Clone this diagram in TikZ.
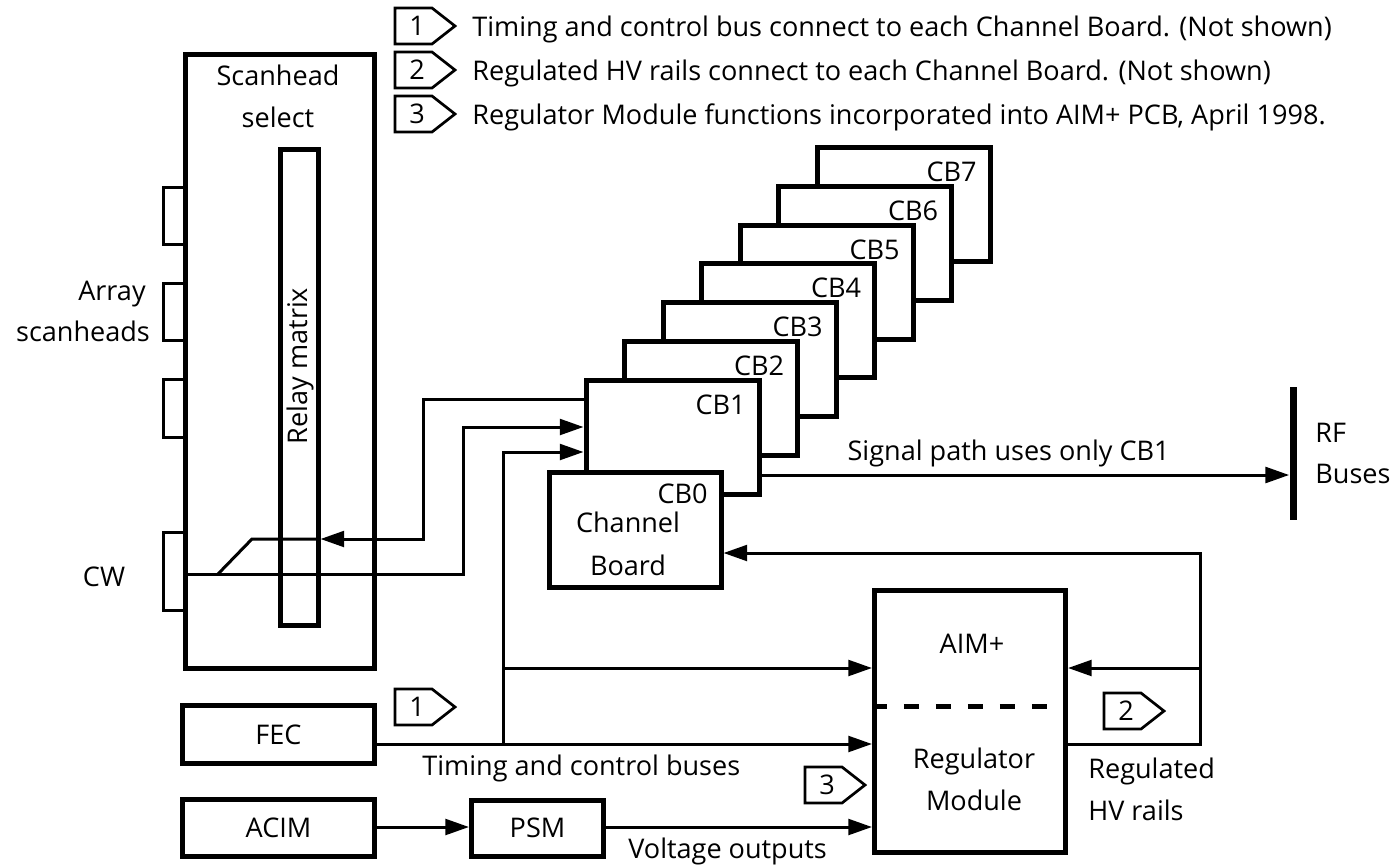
\documentclass[tikz,border=0pt]{standalone}
\usepackage{fontspec}
\setmainfont{Open Sans}
\usetikzlibrary{arrows.meta}
\newdimen\pxu \pxu=0.02cm
\newcommand\noteflag[4]{%
  \draw[flagline] (#2,#3-18) -- (#2+37,#3-18) -- (#2+60,#3) -- (#2+37,#3+18) -- (#2,#3+18) -- cycle;
  \node[lbl] (#1) at (#2+22,#3) {#4};}
\begin{document}
\begin{tikzpicture}[x=0.02cm,y=-0.02cm,
  font=\fontsize{15.4}{24}\selectfont,
  box/.style={draw, line width=5*\pxu, inner sep=0, fill=white},
  wire/.style={line width=3*\pxu},
  arr/.style={wire, -{Triangle[length=13.5pt,width=9pt]}},
  lbl/.style={inner sep=0},
  flagline/.style={line width=2.7*\pxu, line join=miter}]
\useasboundingbox (0,0) rectangle (1400,866);

% notes
\noteflag{f1}{395}{26}{1}
\noteflag{f2}{395}{70}{2}
\noteflag{f3}{395}{114}{3}
\node[lbl, anchor=base west] (n1) at (472,36) {Timing and control bus connect to each Channel Board. (Not shown)};
\node[lbl, anchor=base west] (n2) at (472,80) {Regulated HV rails connect to each Channel Board. (Not shown)};
\node[lbl, anchor=base west] (n3) at (472,124) {Regulator Module functions incorporated into AIM+ PCB, April 1998.};

% scanhead select
\node[box, minimum width=189*\pxu, minimum height=613.5*\pxu] (scan) at (280,361.25) {};
\node[lbl, anchor=base] (sh1) at (278,85) {Scanhead};
\node[lbl, anchor=base] (sh2) at (278,127) {select};
\node[box, fill=none, minimum width=38*\pxu, minimum height=476.5*\pxu] (relay) at (299,387.25) {};
\node[lbl, rotate=90, anchor=base] (relayl) at (307,366) {Relay matrix};
\foreach \a/\b in {187/244, 283/340, 379/437, 532/610}
  \draw[wire] (183,\a) -- (163,\a) -- (163,\b) -- (183,\b);
\node[lbl, anchor=base] (arr1) at (112,300) {Array};
\node[lbl, anchor=base] (arr2) at (83,341) {scanheads};
\node[lbl] (cwl) at (104,577) {CW};

% channel boards
\foreach \k in {7,6,...,1} {
  \pgfmathsetmacro\L{586+38.5*(\k-1)}
  \pgfmathsetmacro\T{380-38.7*(\k-1)}
  \node[box, minimum width=173*\pxu, minimum height=114*\pxu] (cb\k) at (\L+86.5,\T+57) {};
  \node[lbl, anchor=base east] (cbl\k) at (\L+160,\T+34) {CB\k};
}
\node[box, minimum width=172*\pxu, minimum height=115*\pxu] (cb0) at (635,529.5) {};
\node[lbl, anchor=base east] (cbl0) at (708,503) {CB0};
\node[lbl, anchor=base] (ch1) at (628,532) {Channel};
\node[lbl, anchor=base] (ch2) at (628,575) {Board};

% RF buses
\node[fill, inner sep=0, minimum width=7*\pxu, minimum height=133*\pxu] (rf) at (1293,453.5) {};
\node[lbl, anchor=base west] (rft1) at (1315,442) {RF};
\node[lbl, anchor=base west] (rft2) at (1315,483) {Buses};
\node[lbl, anchor=base east] (sigl) at (1170,460) {Signal path uses only CB1};

% bottom boxes
\node[box, minimum width=192*\pxu, minimum height=58*\pxu] (fec) at (278.5,734.5) {FEC};
\node[box, minimum width=192*\pxu, minimum height=57*\pxu] (acim) at (278.5,828) {ACIM};
\node[box, minimum width=132*\pxu, minimum height=56*\pxu] (psm) at (537.5,828) {PSM};
\node[box, minimum width=191*\pxu, minimum height=262*\pxu] (aim) at (970,721.5) {};
\coordinate (ydash) at (0,706);
\draw[line width=5*\pxu, dash pattern=on 8.5pt off 9.7pt] (aim.west |- ydash) -- (aim.east |- ydash);
\node[lbl, anchor=base] (aiml) at (972,653) {AIM+};
\node[lbl, anchor=base] (regl1) at (974,768) {Regulator};
\node[lbl, anchor=base] (regl2) at (974,810) {Module};
\node[lbl, anchor=base west] (rhv1) at (1088,778) {Regulated};
\node[lbl, anchor=base west] (rhv2) at (1088,820) {HV rails};
\node[lbl, anchor=base west] (tcb) at (422,775) {Timing and control buses};
\node[lbl, anchor=base west] (vol) at (628,858) {Voltage outputs};
\noteflag{fb1}{395}{707}{1}
\noteflag{fb3}{805}{785}{3}
\noteflag{fb2}{1104}{711}{2}

% connectors
\coordinate (ya) at (0,399);
\coordinate (yb) at (0,427);
\coordinate (yc) at (0,452);
\coordinate (ysig) at (0,475);
\coordinate (ytim) at (0,744);
\coordinate (ypsm) at (0,827);
\coordinate (k1) at (423,539);
\coordinate (sw1) at (252,539);
\coordinate (sw2) at (218,574);
\coordinate (k2) at (463,574);
\coordinate (j1) at (503,744);
\coordinate (j2) at (503,668);
\coordinate (r1) at (1200,744);
\coordinate (r2) at (1200,553);
\coordinate (r3) at (1200,668);

\draw[arr] (cb1.west |- ya) -| (k1) -- (relay.east |- k1);
\draw[wire] (relay.east |- k1) -- (sw1) -- (sw2);
\draw[arr] (scan.west |- k2) -- (k2) |- (cb1.west |- yb);
\draw[arr] (j1) |- (cb1.west |- yc);
\draw[arr] (j2) -- (aim.west |- j2);
\draw[arr] (fec.east |- ytim) -- (aim.west |- ytim);
\draw[arr] (acim.east |- ypsm) -- (psm.west |- ypsm);
\draw[arr] (psm.east |- ypsm) -- (aim.west |- ypsm);
\draw[arr] (aim.east |- r1) -- (r1) -- (r2) -- (cb0.east |- r2);
\draw[arr] (r3) -- (aim.east |- r3);
\draw[arr] (cb1.east |- ysig) -- (rf.west |- ysig);
\end{tikzpicture}
\end{document}
